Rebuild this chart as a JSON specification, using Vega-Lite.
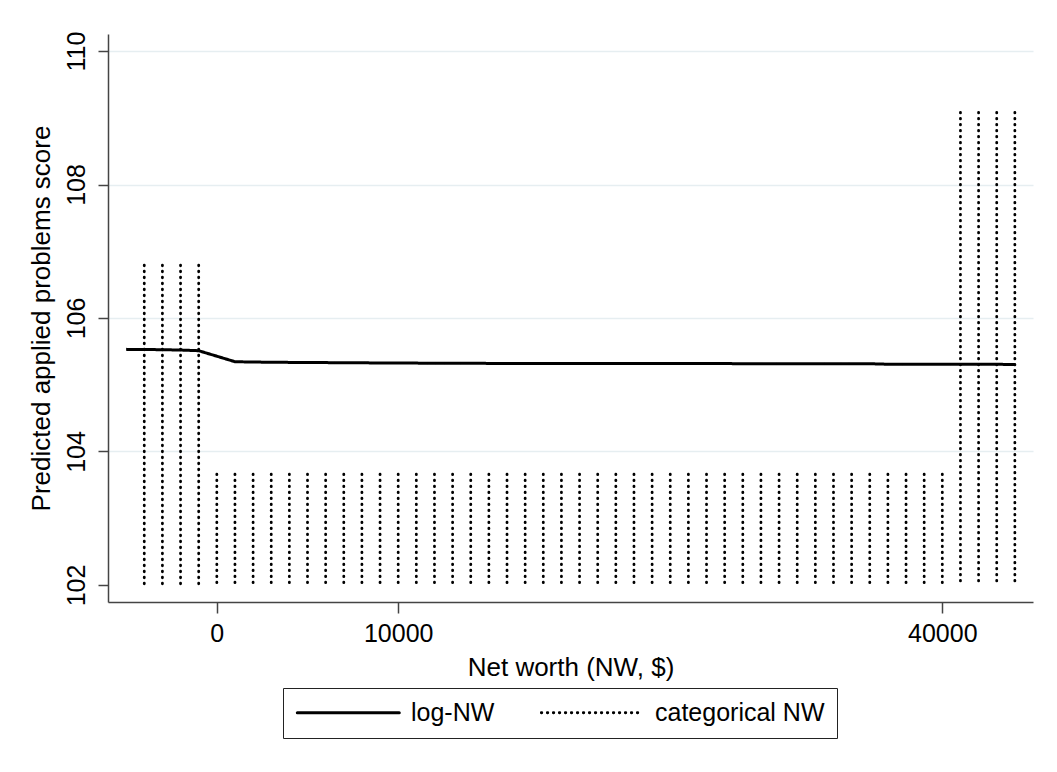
{
  "$schema": "https://vega.github.io/schema/vega-lite/v6.json",
  "width": 925,
  "height": 568,
  "autosize": {"type": "none"},
  "padding": {"left": 108, "top": 34, "right": 24, "bottom": 170},
  "background": "white",
  "config": {
    "view": {"stroke": null},
    "font": "Liberation Sans",
    "axis": {"labelFont": "Liberation Sans", "titleFont": "Liberation Sans", "labelFontSize": 25, "titleFontSize": 26, "labelColor": "black", "titleColor": "black", "titleFontWeight": "normal", "domainColor": "#444", "domainWidth": 1.5, "tickColor": "#444", "tickWidth": 1.5, "tickSize": 10}
  },
  "datasets": {
    "cat": [
      {"nw": -4000, "score": 106.79, "series": "categorical NW"},
      {"nw": -3000, "score": 106.79, "series": "categorical NW"},
      {"nw": -2000, "score": 106.79, "series": "categorical NW"},
      {"nw": -1000, "score": 106.79, "series": "categorical NW"},
      {"nw": 0, "score": 103.66, "series": "categorical NW"},
      {"nw": 1000, "score": 103.66, "series": "categorical NW"},
      {"nw": 2000, "score": 103.66, "series": "categorical NW"},
      {"nw": 3000, "score": 103.66, "series": "categorical NW"},
      {"nw": 4000, "score": 103.66, "series": "categorical NW"},
      {"nw": 5000, "score": 103.66, "series": "categorical NW"},
      {"nw": 6000, "score": 103.66, "series": "categorical NW"},
      {"nw": 7000, "score": 103.66, "series": "categorical NW"},
      {"nw": 8000, "score": 103.66, "series": "categorical NW"},
      {"nw": 9000, "score": 103.66, "series": "categorical NW"},
      {"nw": 10000, "score": 103.66, "series": "categorical NW"},
      {"nw": 11000, "score": 103.66, "series": "categorical NW"},
      {"nw": 12000, "score": 103.66, "series": "categorical NW"},
      {"nw": 13000, "score": 103.66, "series": "categorical NW"},
      {"nw": 14000, "score": 103.66, "series": "categorical NW"},
      {"nw": 15000, "score": 103.66, "series": "categorical NW"},
      {"nw": 16000, "score": 103.66, "series": "categorical NW"},
      {"nw": 17000, "score": 103.66, "series": "categorical NW"},
      {"nw": 18000, "score": 103.66, "series": "categorical NW"},
      {"nw": 19000, "score": 103.66, "series": "categorical NW"},
      {"nw": 20000, "score": 103.66, "series": "categorical NW"},
      {"nw": 21000, "score": 103.66, "series": "categorical NW"},
      {"nw": 22000, "score": 103.66, "series": "categorical NW"},
      {"nw": 23000, "score": 103.66, "series": "categorical NW"},
      {"nw": 24000, "score": 103.66, "series": "categorical NW"},
      {"nw": 25000, "score": 103.66, "series": "categorical NW"},
      {"nw": 26000, "score": 103.66, "series": "categorical NW"},
      {"nw": 27000, "score": 103.66, "series": "categorical NW"},
      {"nw": 28000, "score": 103.66, "series": "categorical NW"},
      {"nw": 29000, "score": 103.66, "series": "categorical NW"},
      {"nw": 30000, "score": 103.66, "series": "categorical NW"},
      {"nw": 31000, "score": 103.66, "series": "categorical NW"},
      {"nw": 32000, "score": 103.66, "series": "categorical NW"},
      {"nw": 33000, "score": 103.66, "series": "categorical NW"},
      {"nw": 34000, "score": 103.66, "series": "categorical NW"},
      {"nw": 35000, "score": 103.66, "series": "categorical NW"},
      {"nw": 36000, "score": 103.66, "series": "categorical NW"},
      {"nw": 37000, "score": 103.66, "series": "categorical NW"},
      {"nw": 38000, "score": 103.66, "series": "categorical NW"},
      {"nw": 39000, "score": 103.66, "series": "categorical NW"},
      {"nw": 40000, "score": 103.66, "series": "categorical NW"},
      {"nw": 41000, "score": 109.08, "series": "categorical NW"},
      {"nw": 42000, "score": 109.08, "series": "categorical NW"},
      {"nw": 43000, "score": 109.08, "series": "categorical NW"},
      {"nw": 44000, "score": 109.08, "series": "categorical NW"}
    ],
    "logline": [
      {"nw": -5000, "score": 105.53, "series": "log-NW"},
      {"nw": -4000, "score": 105.528, "series": "log-NW"},
      {"nw": -3000, "score": 105.525, "series": "log-NW"},
      {"nw": -2000, "score": 105.52, "series": "log-NW"},
      {"nw": -1000, "score": 105.51, "series": "log-NW"},
      {"nw": 1000, "score": 105.345, "series": "log-NW"},
      {"nw": 2000, "score": 105.34, "series": "log-NW"},
      {"nw": 4000, "score": 105.335, "series": "log-NW"},
      {"nw": 7000, "score": 105.33, "series": "log-NW"},
      {"nw": 10000, "score": 105.325, "series": "log-NW"},
      {"nw": 15000, "score": 105.32, "series": "log-NW"},
      {"nw": 20000, "score": 105.318, "series": "log-NW"},
      {"nw": 36000, "score": 105.315, "series": "log-NW"},
      {"nw": 37000, "score": 105.307, "series": "log-NW"},
      {"nw": 44000, "score": 105.305, "series": "log-NW"}
    ]
  },
  "encoding": {
    "x": {"field": "nw", "type": "quantitative", "scale": {"domain": [-6000, 45000], "nice": false, "zero": false},
      "axis": {"values": [0, 10000, 40000], "format": "d", "grid": false, "title": "Net worth (NW, $)", "labelPadding": 8, "titlePadding": 8, "tickSize": 11}},
    "y": {"field": "score", "type": "quantitative", "scale": {"domain": [101.745, 110.255], "nice": false, "zero": false},
      "axis": {"values": [102, 104, 106, 108, 110], "title": "Predicted applied problems score", "grid": true, "gridColor": "#e6eef1", "gridWidth": 1.5,
        "gridOpacity": {"condition": {"test": "datum.value == 102", "value": 0}, "value": 1},
        "labelAngle": -90, "labelAlign": "center", "labelBaseline": "bottom", "labelPadding": 9, "titlePadding": 10}},
    "strokeDash": {"field": "series", "type": "nominal",
      "scale": {"domain": ["log-NW", "categorical NW"], "range": [[1, 0], [0.3, 4.4]]},
      "legend": {"title": null, "orient": "none", "legendX": 175, "legendY": 654, "direction": "horizontal",
        "symbolType": "M-1,0H9", "symbolSize": 416, "symbolStrokeColor": "black", "symbolStrokeWidth": 2.5, "symbolFillColor": "transparent",
        "labelFont": "Liberation Sans", "labelFontSize": 25, "labelColor": "black", "labelOffset": 91, "labelLimit": 400,
        "labelExpr": "datum.value == 'categorical NW' ? datum.label + '\u00a0\u00a0\u00a0' : datum.label",
        "columnPadding": 40, "strokeColor": "#222", "padding": 12, "symbolLimit": 0,
        "encode": {"symbols": {"update": {"strokeCap": {"value": "round"}}}}}},
    "strokeWidth": {"field": "series", "type": "nominal",
      "scale": {"domain": ["log-NW", "categorical NW"], "range": [3, 2.8]}, "legend": null}
  },
  "layer": [
    {
      "data": {"name": "cat"},
      "mark": {"type": "rule", "color": "black", "strokeCap": "round"},
      "encoding": {
        "y2": {"datum": 102},
        "strokeDash": {"field": "series", "type": "nominal", "scale": {"domain": ["log-NW", "categorical NW"], "range": [[1, 0], [0.5, 5.5]]}}
      }
    },
    {
      "data": {"name": "logline"},
      "mark": {"type": "line", "color": "black", "strokeJoin": "round"},
      "encoding": {}
    }
  ]
}
